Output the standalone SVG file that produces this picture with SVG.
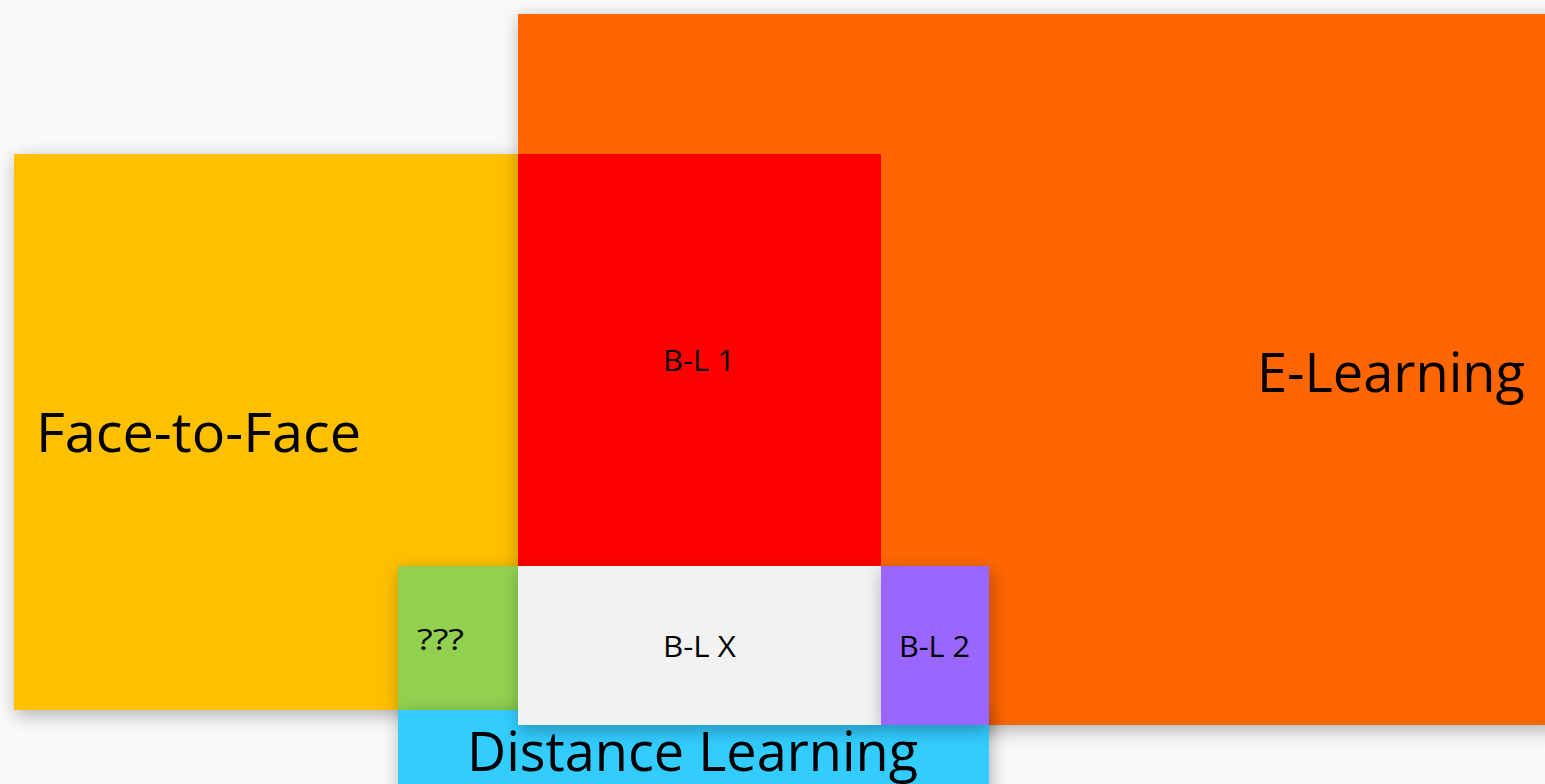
<svg xmlns="http://www.w3.org/2000/svg" width="1545" height="784" viewBox="0 0 1545 784">
<defs>
<filter id="sh" x="-20%" y="-20%" width="140%" height="140%">
<feDropShadow dx="2" dy="5" stdDeviation="9" flood-color="#000" flood-opacity="0.3"/>
</filter>
</defs>
<style>
.t{font-family:"Open Sans","Noto Sans","Liberation Sans",sans-serif;fill:#000}
.big{font-size:55px}
.sm{font-size:29px}
</style>
<rect width="1545" height="784" fill="#f9f9f8"/>
<g id="face-to-face">
<rect x="14" y="154" width="504" height="556" fill="#ffc000" filter="url(#sh)"/>
<text class="t big" x="36" y="452" textLength="325" lengthAdjust="spacingAndGlyphs">Face-to-Face</text>
</g>
<g id="e-learning">
<rect x="518" y="14" width="1040" height="711" fill="#ff6600" filter="url(#sh)"/>
<text class="t big" x="1257" y="392" textLength="268" lengthAdjust="spacingAndGlyphs">E-Learning</text>
</g>
<g id="bl1">
<rect x="518" y="154" width="363" height="412" fill="#ff0000"/>
<text class="t sm" x="663" y="371" textLength="72" lengthAdjust="spacingAndGlyphs">B-L 1</text>
</g>
<g id="unknown">
<rect x="398" y="566" width="120" height="144" fill="#92d050" filter="url(#sh)"/>
<text class="t sm" x="417" y="650" textLength="47" lengthAdjust="spacingAndGlyphs">???</text>
</g>
<g id="distance-learning">
<rect x="398" y="710" width="591" height="90" fill="#33ccff" filter="url(#sh)"/>
<text class="t big" x="467" y="771" textLength="451" lengthAdjust="spacingAndGlyphs">Distance Learning</text>
</g>
<g id="blx">
<rect x="518" y="566" width="363" height="159" fill="#f2f2f2" filter="url(#sh)"/>
<text class="t sm" x="663" y="657" textLength="73" lengthAdjust="spacingAndGlyphs">B-L X</text>
</g>
<g id="bl2">
<rect x="881" y="566" width="108" height="159" fill="#9966ff" filter="url(#sh)"/>
<text class="t sm" x="899" y="657" textLength="71" lengthAdjust="spacingAndGlyphs">B-L 2</text>
</g>
<g id="connectors"/>
</svg>
